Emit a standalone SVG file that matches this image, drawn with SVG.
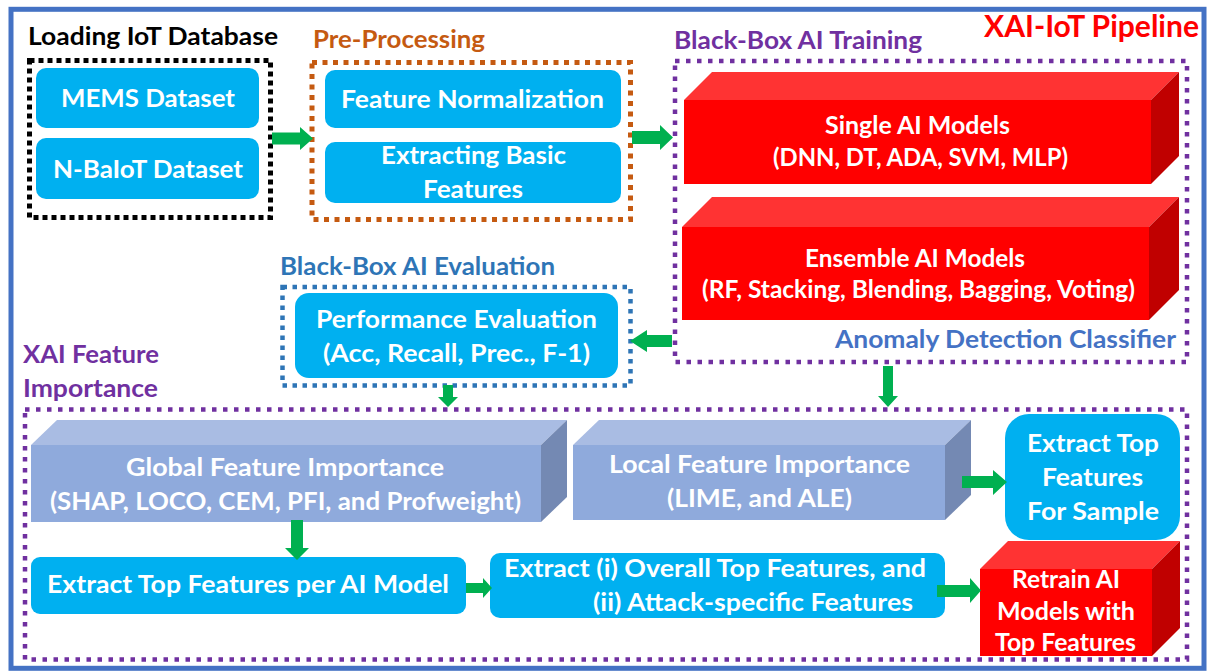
<svg xmlns="http://www.w3.org/2000/svg" width="1210" height="672" viewBox="0 0 1210 672">
  <style>
    text { font-family: Lato, "Open Sans", "Liberation Sans", sans-serif; font-weight: 700; }
    .lbl { fill: #FFFFFF; font-size: 25px; text-anchor: middle; }
    .lbl-start { fill: #FFFFFF; font-size: 25px; text-anchor: start; }
    .ttl { font-size: 25px; }
    .blue { fill: #00B0F0; }
    .frame { fill: none; stroke: #4472C4; stroke-width: 5; }
    .dot-k { fill: none; stroke: #000000; stroke-width: 5; stroke-dasharray: 5 4; }
    .dot-o { fill: none; stroke: #C55A11; stroke-width: 5; stroke-dasharray: 5 5.5; }
    .dot-p { fill: none; stroke: #7030A0; stroke-width: 4.5; stroke-dasharray: 4.5 6.5; }
    .dot-b { fill: none; stroke: #2E75B6; stroke-width: 4.5; stroke-dasharray: 4.5 5.5; }
    .arrow { fill: #00B050; }
    .r-front { fill: #FF0000; }
    .r-top { fill: #FF3333; }
    .r-side { fill: #C00000; }
    .l-front { fill: #8FAADC; }
    .l-top { fill: #A9BCE3; }
    .l-side { fill: #7489B3; }
  </style>
  <defs>
    <clipPath id="retrainClip"><rect x="980" y="569" width="172" height="87"/></clipPath>
  </defs>

  <rect width="1210" height="672" fill="#FFFFFF"/>
  <rect class="frame" x="11" y="9.3" width="1193" height="659"/>

  <!-- group frames and titles -->
  <g id="titles">
    <text class="ttl" x="153" y="45" text-anchor="middle" textLength="250" lengthAdjust="spacingAndGlyphs" fill="#000000">Loading IoT Database</text>
    <text class="ttl" x="399" y="48" text-anchor="middle" textLength="172" lengthAdjust="spacingAndGlyphs" fill="#C55A11">Pre-Processing</text>
    <text class="ttl" x="798" y="49" text-anchor="middle" textLength="248" lengthAdjust="spacingAndGlyphs" fill="#7030A0">Black-Box AI Training</text>
    <text x="1091.5" y="37" text-anchor="middle" textLength="215" lengthAdjust="spacingAndGlyphs" fill="#FF0000" font-size="30">XAI-IoT Pipeline</text>
    <text class="ttl" x="1005.5" y="348" text-anchor="middle" textLength="341" lengthAdjust="spacingAndGlyphs" fill="#4472C4">Anomaly Detection Classifier</text>
    <text class="ttl" x="417.5" y="275" text-anchor="middle" textLength="275" lengthAdjust="spacingAndGlyphs" fill="#2E75B6">Black-Box AI Evaluation</text>
    <text class="ttl" x="23" y="363" textLength="136" lengthAdjust="spacingAndGlyphs" fill="#7030A0">XAI Feature</text>
    <text class="ttl" x="23" y="397" textLength="135" lengthAdjust="spacingAndGlyphs" fill="#7030A0">Importance</text>
  </g>

  <g id="frames">
    <rect class="dot-k" x="29.5" y="60.5" width="241" height="157"/>
    <rect class="dot-o" x="312" y="62.5" width="318.5" height="157"/>
    <rect class="dot-p" x="675" y="61" width="512" height="301"/>
    <rect class="dot-b" x="282.5" y="287" width="348" height="98.5"/>
    <rect class="dot-p" x="25" y="409.5" width="1162" height="250"/>
  </g>

  <!-- data sources -->
  <g id="mems">
    <rect class="blue" x="36" y="68" width="223" height="60" rx="10"/>
    <text class="lbl" x="148" y="107" textLength="174" lengthAdjust="spacingAndGlyphs">MEMS Dataset</text>
  </g>
  <g id="nbaiot">
    <rect class="blue" x="36" y="138" width="223" height="61" rx="10"/>
    <text class="lbl" x="148" y="178" textLength="190" lengthAdjust="spacingAndGlyphs">N-BaIoT Dataset</text>
  </g>

  <!-- pre-processing -->
  <g id="normalization">
    <rect class="blue" x="325" y="70" width="296" height="58" rx="10"/>
    <text class="lbl" x="472.5" y="108" textLength="263" lengthAdjust="spacingAndGlyphs">Feature Normalization</text>
  </g>
  <g id="basic-features">
    <rect class="blue" x="325" y="142" width="296" height="61" rx="10"/>
    <text class="lbl" x="473.5" y="164" textLength="185" lengthAdjust="spacingAndGlyphs">Extracting Basic</text>
    <text class="lbl" x="473" y="198" textLength="100" lengthAdjust="spacingAndGlyphs">Features</text>
  </g>

  <!-- black-box training -->
  <g id="single-models">
    <polygon class="r-top" points="684,100 712,72 1179,72 1151,100"/>
    <polygon class="r-side" points="1151,100 1179,72 1179,156 1151,184"/>
    <rect class="r-front" x="684" y="100" width="467" height="84"/>
    <text class="lbl" x="917.5" y="134" font-size="24" textLength="185" lengthAdjust="spacingAndGlyphs">Single AI Models</text>
    <text class="lbl" x="920.5" y="166" font-size="24" textLength="295" lengthAdjust="spacingAndGlyphs">(DNN, DT, ADA, SVM, MLP)</text>
  </g>
  <g id="ensemble-models">
    <polygon class="r-top" points="682,227 712,197 1179,197 1149,227"/>
    <polygon class="r-side" points="1149,227 1179,197 1179,290 1149,320"/>
    <rect class="r-front" x="682" y="227" width="467" height="93"/>
    <text class="lbl" x="915" y="267" font-size="24" textLength="220" lengthAdjust="spacingAndGlyphs">Ensemble AI Models</text>
    <text class="lbl" x="918.5" y="298" font-size="24" textLength="433" lengthAdjust="spacingAndGlyphs">(RF, Stacking, Blending, Bagging, Voting)</text>
  </g>

  <!-- evaluation -->
  <g id="performance">
    <rect class="blue" x="295" y="293" width="323" height="85" rx="14"/>
    <text class="lbl" x="456.5" y="328" font-size="24" textLength="281" lengthAdjust="spacingAndGlyphs">Performance Evaluation</text>
    <text class="lbl" x="456.5" y="362" font-size="24" textLength="267" lengthAdjust="spacingAndGlyphs">(Acc, Recall, Prec., F-1)</text>
  </g>

  <!-- feature importance -->
  <g id="global-importance">
    <polygon class="l-top" points="31,445 57,420 567,420 541,445"/>
    <polygon class="l-side" points="541,445 567,420 567,497 541,522"/>
    <rect class="l-front" x="31" y="445" width="510" height="77"/>
    <text class="lbl" x="285" y="476" textLength="318" lengthAdjust="spacingAndGlyphs">Global Feature Importance</text>
    <text class="lbl" x="285.5" y="510" textLength="471" lengthAdjust="spacingAndGlyphs">(SHAP, LOCO, CEM, PFI, and Profweight)</text>
  </g>
  <g id="local-importance">
    <polygon class="l-top" points="573,445 599,420 971,420 945,445"/>
    <polygon class="l-side" points="945,445 971,420 971,495 945,520"/>
    <rect class="l-front" x="573" y="445" width="372" height="75"/>
    <text class="lbl" x="759.5" y="473" textLength="301" lengthAdjust="spacingAndGlyphs">Local Feature Importance</text>
    <text class="lbl" x="759.5" y="507" textLength="185" lengthAdjust="spacingAndGlyphs">(LIME, and ALE)</text>
  </g>
  <g id="sample-features">
    <rect class="blue" x="1005" y="414" width="175" height="126" rx="24"/>
    <text class="lbl" x="1093" y="452" textLength="132" lengthAdjust="spacingAndGlyphs">Extract Top</text>
    <text class="lbl" x="1092.5" y="486" textLength="101" lengthAdjust="spacingAndGlyphs">Features</text>
    <text class="lbl" x="1093" y="520" textLength="132" lengthAdjust="spacingAndGlyphs">For Sample</text>
  </g>
  <g id="model-features">
    <rect class="blue" x="31" y="557" width="435" height="57" rx="9"/>
    <text class="lbl" x="248" y="593" textLength="402" lengthAdjust="spacingAndGlyphs">Extract Top Features per AI Model</text>
  </g>
  <g id="overall-features">
    <rect class="blue" x="490" y="553" width="455" height="65" rx="10"/>
    <text class="lbl-start" x="504" y="577" textLength="422" lengthAdjust="spacingAndGlyphs">Extract (i) Overall Top Features, and</text>
    <text class="lbl-start" x="593" y="611" textLength="320" lengthAdjust="spacingAndGlyphs">(ii) Attack-specific Features</text>
  </g>
  <g id="retrain">
    <polygon class="r-top" points="980,569 1008,541 1180,541 1152,569"/>
    <polygon class="r-side" points="1152,569 1180,541 1180,628 1152,656"/>
    <rect class="r-front" x="980" y="569" width="172" height="87"/>
    <g clip-path="url(#retrainClip)">
      <text class="lbl" x="1066" y="588" textLength="108" lengthAdjust="spacingAndGlyphs">Retrain AI</text>
      <text class="lbl" x="1066" y="620" textLength="138" lengthAdjust="spacingAndGlyphs">Models with</text>
      <text class="lbl" x="1065.5" y="651" textLength="141" lengthAdjust="spacingAndGlyphs">Top Features</text>
    </g>
  </g>

  <!-- connectors: block arrows -->
  <g id="connectors">
    <polygon class="arrow" points="272,132.5 300,132.5 300,127 313,138.5 300,150 300,144.5 272,144.5"/>
    <polygon class="arrow" points="632,131 660,131 660,125 673,137.5 660,150 660,144 632,144"/>
    <polygon class="arrow" points="672,335 647,335 647,330 630,341 647,352 647,347 672,347"/>
    <polygon class="arrow" points="883,366 893,366 893,396 898,396 888,407 878,396 883,396"/>
    <polygon class="arrow" points="443,385 453,385 453,397 458,397 448,407 438,397 443,397"/>
    <polygon class="arrow" points="291,520 303,520 303,548 309,548 297,560 285,548 291,548"/>
    <polygon class="arrow" points="962,476 993,476 993,470 1007,482 993,495 993,488 962,488"/>
    <polygon class="arrow" points="466,583 483,583 483,578 492,588 483,598 483,593 466,593"/>
    <polygon class="arrow" points="937,585 970,585 970,578 981,590.5 970,603 970,597 937,597"/>
  </g>
</svg>
